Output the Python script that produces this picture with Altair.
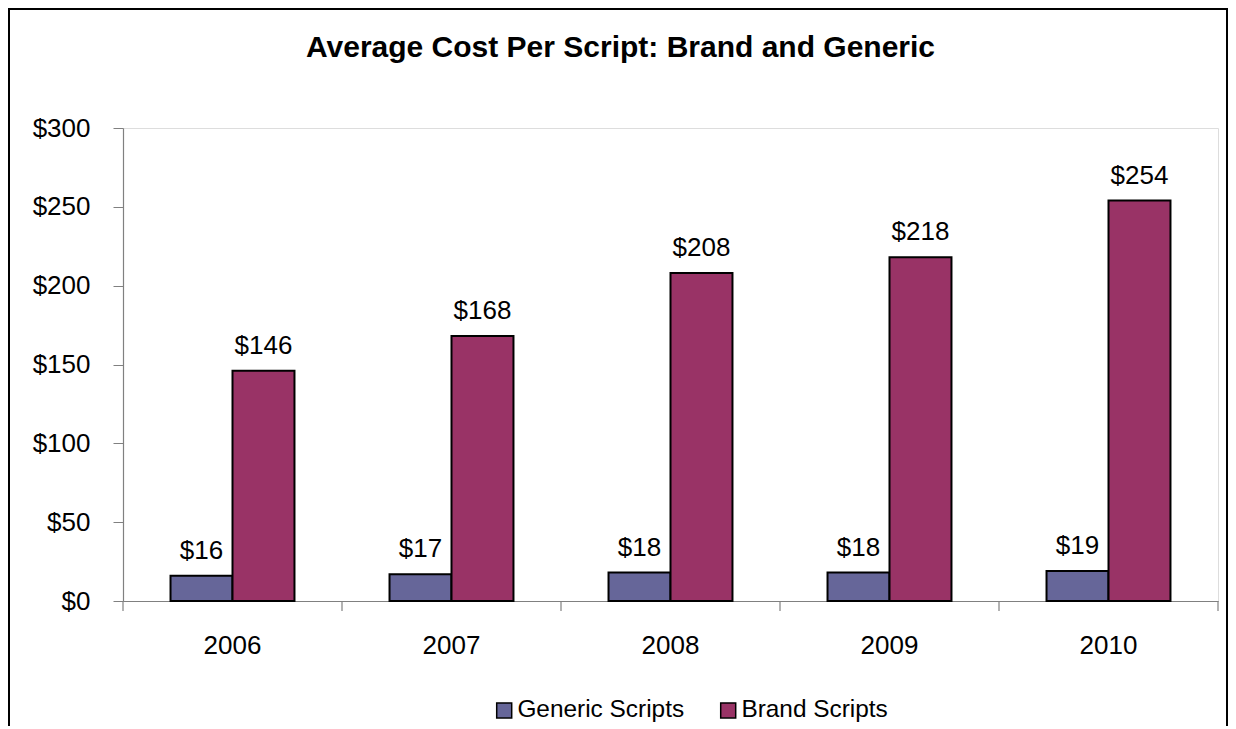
import altair as alt
import pandas as pd

years = ["2006", "2007", "2008", "2009", "2010"]
series = ["Generic Scripts", "Brand Scripts"]
generic = [16, 17, 18, 18, 19]
brand = [146, 168, 208, 218, 254]
colors = ["#666699", "#993366"]
y_ticks = [0, 50, 100, 150, 200, 250, 300]
title_text = "Average Cost Per Script: Brand and Generic"

rows = []
for i, yr in enumerate(years):
    rows.append({"year": yr, "series": series[0], "value": generic[i]})
    rows.append({"year": yr, "series": series[1], "value": brand[i]})
df = pd.DataFrame(rows)

FONT = "Liberation Sans"
FS = 26
W, H = 1095, 473
P_IN = 0.434
P_OUT = 0.217
STEP = W / 5.0
GAP = STEP * P_OUT  # distance from category boundary to band start

xscale = alt.Scale(paddingInner=P_IN, paddingOuter=P_OUT)

base = alt.Chart(df)

bars = base.mark_bar(stroke="black", strokeWidth=2).encode(
    x=alt.X("year:N", scale=xscale, sort=years,
            axis=alt.Axis(title=None, labelAngle=0, labelFontSize=FS, labelFont=FONT,
                          labelColor="black", tickSize=10, tickOpacity=0,
                          labelPadding=21, domainColor="#808080", domainWidth=1.2)),
    xOffset=alt.XOffset("series:N", sort=series, scale=alt.Scale(paddingInner=0, paddingOuter=0)),
    y=alt.Y("value:Q", scale=alt.Scale(domain=[0, 300], nice=False),
            axis=alt.Axis(title=None, values=y_ticks, format="$,.0f", grid=False,
                          labelFontSize=FS, labelFont=FONT, labelColor="black",
                          tickSize=10, tickColor="#808080", domainColor="#808080",
                          domainWidth=1.2, labelPadding=23)),
    color=alt.Color("series:N", sort=series,
                    scale=alt.Scale(domain=series, range=colors),
                    legend=alt.Legend(title=None, orient="none", legendX=369, legendY=570,
                                      direction="horizontal", symbolType="square",
                                      symbolSize=225, symbolStrokeColor="black",
                                      symbolStrokeWidth=1.5, labelFontSize=24.4,
                                      labelFont=FONT, labelColor="black", labelLimit=500,
                                      columnPadding=31, labelOffset=1)),
)

labels = base.mark_text(baseline="alphabetic", dy=-17, fontSize=FS, font=FONT, color="black").encode(
    x=alt.X("year:N", sort=years),
    xOffset=alt.XOffset("series:N", sort=series),
    y="value:Q",
    text=alt.Text("value:Q", format="$,.0f"),
)

tick_df = pd.DataFrame({"year": years})
xticks = alt.Chart(tick_df).mark_rule(color="#808080", strokeWidth=1.2, xOffset=-GAP).encode(
    x=alt.X("year:N", sort=years, bandPosition=0),
    y=alt.value(H),
    y2=alt.value(H + 10),
)
last_tick = alt.Chart(pd.DataFrame({"year": [years[-1]]})).mark_rule(
    color="#808080", strokeWidth=1.2, xOffset=GAP).encode(
    x=alt.X("year:N", sort=years, bandPosition=1),
    y=alt.value(H),
    y2=alt.value(H + 10),
)

frame = alt.Chart(pd.DataFrame({"f": [0]})).mark_rect(fill=None, stroke="black", strokeWidth=2).encode(
    x=alt.value(-114), x2=alt.value(W + 9), y=alt.value(-119), y2=alt.value(H + 300)
)

title = alt.Chart(pd.DataFrame({"t": [title_text]})).mark_text(
    fontSize=30, font=FONT, fontWeight="bold", color="black", align="center", baseline="alphabetic"
).encode(
    text="t:N", x=alt.value(497.5), y=alt.value(-71)
)

chart = alt.layer(frame, bars, labels, xticks, last_tick, title).properties(
    width=W, height=H,
    padding={"left": 115, "top": 120, "right": 10, "bottom": 125},
    autosize=alt.AutoSizeParams(type="none"),
).configure_view(stroke=None).configure(background="white")

chart.save("out.html", embed_options={"renderer": "svg", "actions": False})
